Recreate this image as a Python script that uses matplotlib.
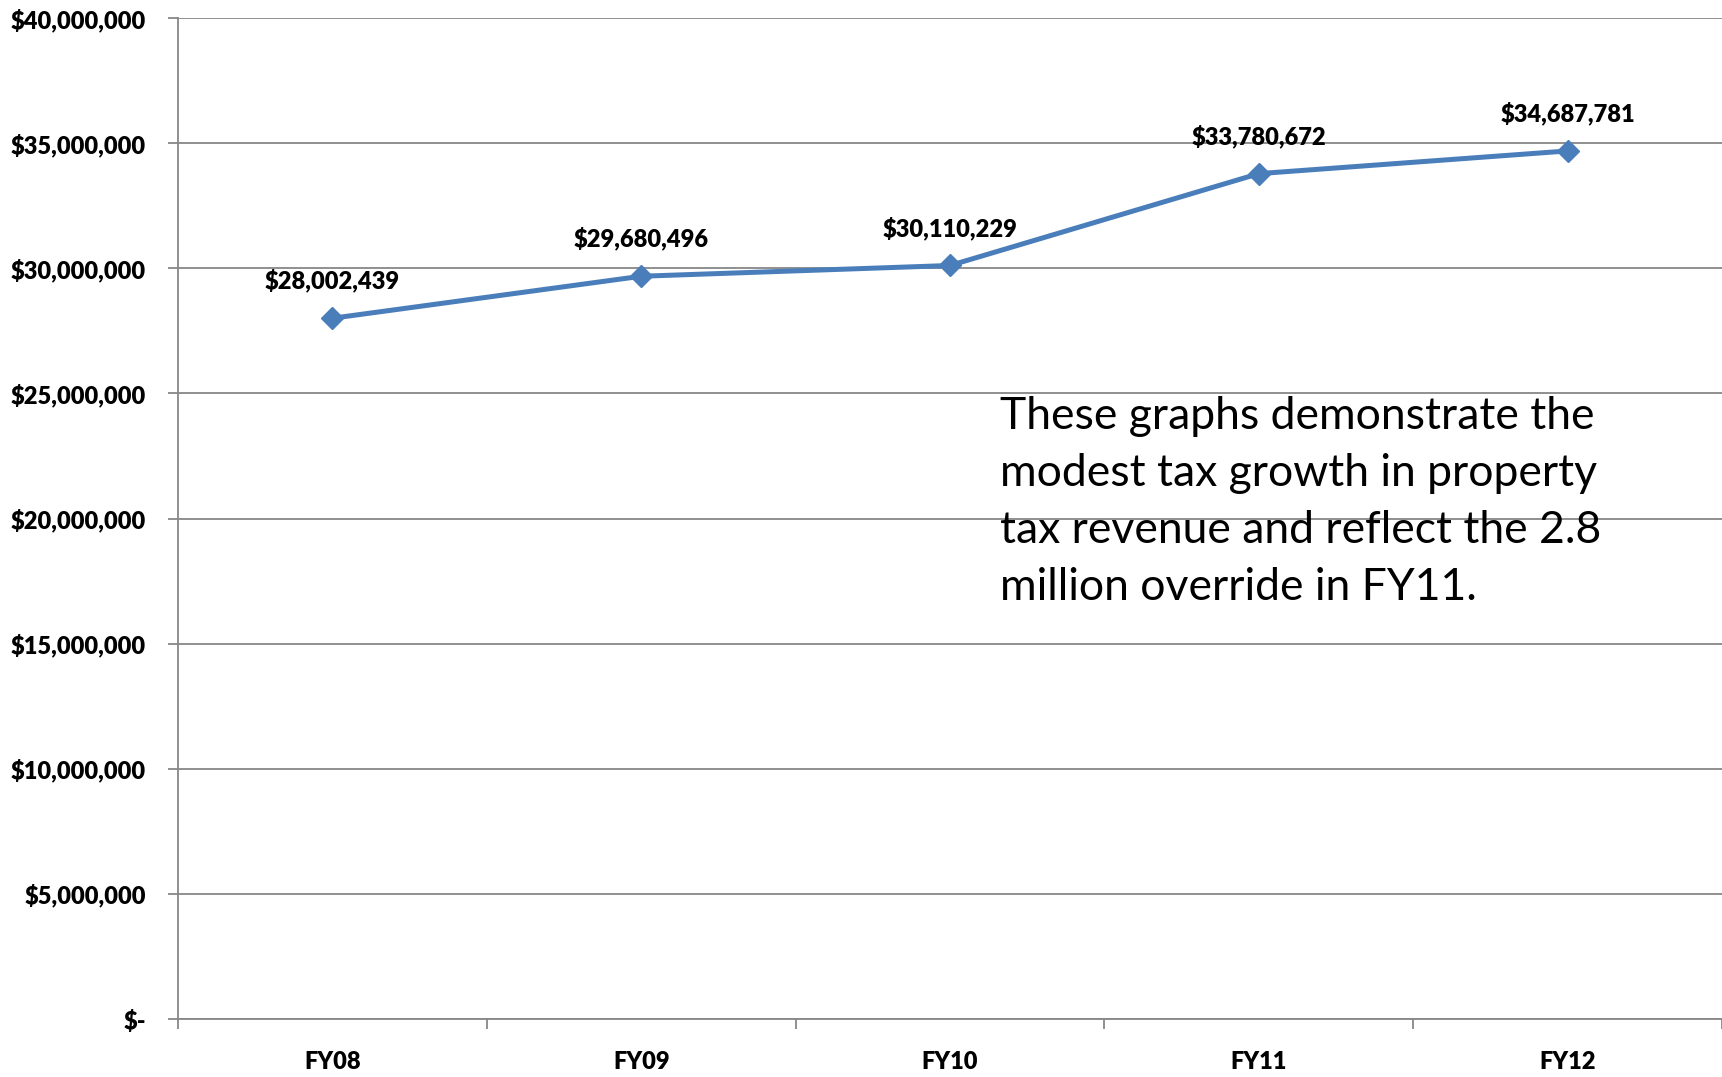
import matplotlib.pyplot as plt

years = ['FY08', 'FY09', 'FY10', 'FY11', 'FY12']
revenue = [28002439, 29680496, 30110229, 33780672, 34687781]
y_ticks = [0, 5000000, 10000000, 15000000, 20000000, 25000000, 30000000, 35000000, 40000000]
y_labels = ['$-', '$5,000,000', '$10,000,000', '$15,000,000', '$20,000,000',
            '$25,000,000', '$30,000,000', '$35,000,000', '$40,000,000']
note = ("These graphs demonstrate the\n"
        "modest tax growth in property\n"
        "tax revenue and reflect the 2.8\n"
        "million override in FY11.")

plt.rcParams['font.family'] = ['Lato', 'DejaVu Sans']
grid_col = '#878787'
line_col = '#4A7EBB'
lab_size = 17
lab_weight = 'heavy'

W, H = 1722, 1077
fig = plt.figure(figsize=(W / 100, H / 100), dpi=100)
ax = fig.add_axes([178 / W, 1 - 1019 / H, 1 - 178 / W, (1019 - 18) / H])

x = list(range(len(years)))
ax.plot(x, revenue, color=line_col, lw=3.6, marker='D', ms=11, zorder=3)

# value labels above each point
for xi, v in zip(x, revenue):
    ax.annotate(f'${v:,}', (xi, v), xytext=(0, 27), textcoords='offset points',
                ha='center', va='center', fontsize=lab_size, fontweight=lab_weight)

ax.set_xlim(-0.5, len(years) - 0.5)
ax.set_ylim(0, 40000000)
ax.set_yticks(y_ticks)
ax.set_yticklabels(y_labels, fontsize=lab_size, fontweight=lab_weight)

# ticks sit between categories, names in the middle
ax.set_xticks([i - 0.5 for i in range(len(years) + 1)])
ax.set_xticklabels([])
ax.set_xticks(x, minor=True)
ax.set_xticklabels(years, minor=True, fontsize=lab_size, fontweight=lab_weight)
ax.tick_params(axis='x', which='minor', length=0, pad=23)
ax.tick_params(axis='x', which='major', length=7, width=1.3, color=grid_col)
ax.tick_params(axis='y', length=7, width=1.3, color=grid_col, pad=16)

ax.grid(axis='y', color=grid_col, lw=1.3)
ax.set_axisbelow(True)
for s in ['top', 'right']:
    ax.spines[s].set_visible(False)
for s in ['left', 'bottom']:
    ax.spines[s].set_color(grid_col)
    ax.spines[s].set_linewidth(1.3)

fig.text(1000 / W, 1 - 396 / H, note, ha='left', va='top', fontsize=32, linespacing=1.48)

fig.savefig('out.png', dpi=100)
